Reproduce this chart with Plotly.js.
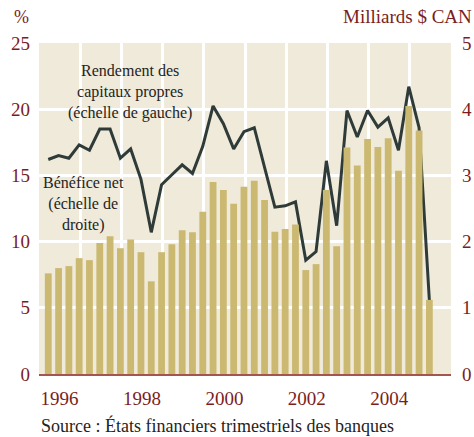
<!DOCTYPE html>
<html>
<head>
<meta charset="utf-8">
<script src="https://cdn.plot.ly/plotly-3.0.1.min.js"></script>
<style>
  html, body { margin: 0; padding: 0; background: #ffffff; }
  #chart { width: 474px; height: 437px; }
</style>
</head>
<body>
<div id="chart"></div>
<script>
// Quarterly data, 1996 T1 to 2005 T2
const firstYear = 1996;
const netIncome = [1.52, 1.60, 1.63, 1.75, 1.72, 1.98, 2.08, 1.90, 2.03, 1.84,
                   1.40, 1.84, 1.96, 2.17, 2.14, 2.45, 2.90, 2.78, 2.57, 2.83,
                   2.92, 2.63, 2.15, 2.19, 2.26, 1.57, 1.66, 2.78, 1.93, 3.42,
                   3.15, 3.55, 3.43, 3.56, 3.07, 4.05, 3.68, 1.12];
const roe = [16.2, 16.5, 16.3, 17.3, 16.9, 18.5, 18.5, 16.3, 17.0, 14.7,
             10.7, 14.3, 15.05, 15.8, 15.15, 17.2, 20.25, 18.9, 17.0, 18.3,
             18.6, 15.6, 12.6, 12.7, 13.0, 8.6, 9.25, 16.1, 11.2, 19.9,
             17.9, 19.9, 18.65, 19.35, 16.9, 21.7, 18.6, 5.55];
const yearLabels = ['1996', '1998', '2000', '2002', '2004'];
const leftTicks = [0, 5, 10, 15, 20, 25];
const rightTicks = [0, 1, 2, 3, 4, 5];

// quarter positions (end of each quarter, slightly before)
const xq = netIncome.map((_, i) => firstYear + (i + 0.9) / 4);
const labelPos = yearLabels.map(y => Number(y) + 0.5);
const yearGrid = [];
for (let y = firstYear + 1; y < firstYear + 10; y++) yearGrid.push(y);

const serif = '"Liberation Serif", "DejaVu Serif", serif';
const red = '#7a1d1d';
const ink = '#1f2422';

const traces = [
  {
    type: 'bar', x: xq, y: netIncome, yaxis: 'y2', width: 0.165,
    marker: { color: '#cbb972', line: { width: 0 } },
    hoverinfo: 'skip'
  },
  {
    type: 'scatter', mode: 'lines', x: xq, y: roe,
    line: { color: '#2f3b38', width: 3 },
    hoverinfo: 'skip'
  }
];

const layout = {
  width: 474, height: 437,
  margin: { l: 39, r: 23, t: 42.5, b: 63 },
  paper_bgcolor: '#ffffff',
  plot_bgcolor: '#efeada',
  showlegend: false,
  font: { family: serif, color: ink },
  xaxis: {
    range: [firstYear, firstYear + 10],
    tickmode: 'array', tickvals: labelPos, ticktext: yearLabels,
    showgrid: false, zeroline: false, ticks: '', ticklabelstandoff: 6,
    tickfont: { family: serif, size: 19, color: red },
    showline: true, linecolor: '#a3554e', linewidth: 2,
    minor: { tickmode: 'array', tickvals: yearGrid, showgrid: true,
             gridcolor: '#ffffff', gridwidth: 3, ticks: '' },
    fixedrange: true
  },
  yaxis: {
    range: [0, 25], tickmode: 'array', tickvals: leftTicks,
    showgrid: true, gridcolor: '#ffffff', gridwidth: 3,
    zeroline: false, ticks: '', ticklabelstandoff: 8,
    tickfont: { family: serif, size: 19, color: red },
    fixedrange: true
  },
  yaxis2: {
    range: [0, 5], overlaying: 'y', side: 'right',
    tickmode: 'array', tickvals: rightTicks,
    showgrid: false, zeroline: false, ticks: '', ticklabelstandoff: 10,
    tickfont: { family: serif, size: 19, color: red },
    fixedrange: true
  },
  annotations: [
    { xref: 'paper', yref: 'paper', x: -0.065, y: 1.0, yshift: 14,
      xanchor: 'left', yanchor: 'bottom', showarrow: false,
      text: '%', font: { family: serif, size: 18, color: red } },
    { xref: 'paper', yref: 'paper', x: 1.055, y: 1.0, yshift: 14,
      xanchor: 'right', yanchor: 'bottom', showarrow: false,
      text: 'Milliards $ CAN', font: { family: serif, size: 19, color: red } },
    { xref: 'paper', yref: 'paper', x: 0.22, y: 0.96, yshift: -4,
      xanchor: 'center', yanchor: 'top', showarrow: false, align: 'center',
      text: 'Rendement des<br>capitaux propres<br>(échelle de gauche)',
      font: { family: serif, size: 16, color: ink } },
    { xref: 'paper', yref: 'paper', x: 0.107, y: 0.62, yshift: -3,
      xanchor: 'center', yanchor: 'top', showarrow: false, align: 'center',
      text: 'Bénéfice net<br>(échelle de<br>droite)',
      font: { family: serif, size: 16, color: ink } },
    { xref: 'paper', yref: 'paper', x: 0.0, y: 0, yshift: -39,
      xanchor: 'left', yanchor: 'top', showarrow: false,
      text: 'Source : États financiers trimestriels des banques',
      font: { family: serif, size: 18, color: ink } }
  ]
};

Plotly.newPlot('chart', traces, layout, { staticPlot: true, displayModeBar: false });
</script>
</body>
</html>
